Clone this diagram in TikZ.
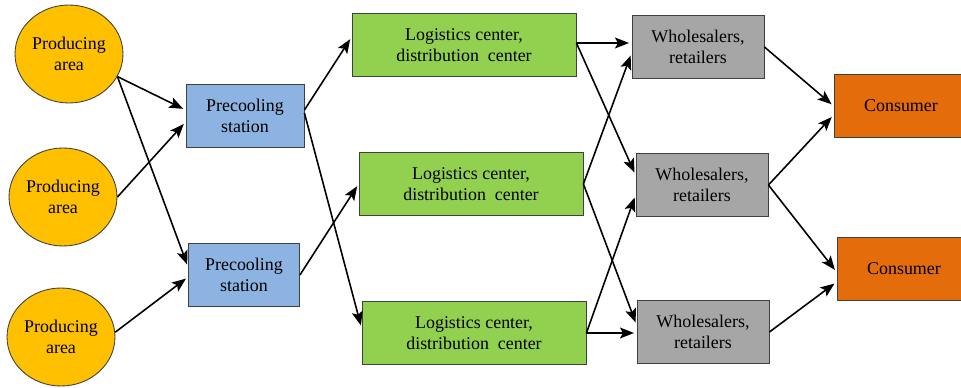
\documentclass[tikz,border=0pt]{standalone}
\usepackage{fontspec}
\setmainfont{Liberation Serif}
\usetikzlibrary{arrows.meta,shapes.geometric}
\definecolor{areacol}{RGB}{255,192,0}
\definecolor{coolcol}{RGB}{141,179,226}
\definecolor{logcol}{RGB}{146,208,80}
\definecolor{salecol}{RGB}{166,166,166}
\definecolor{usercol}{RGB}{228,108,10}
\begin{document}
\begin{tikzpicture}[x=0.02cm,y=-0.02cm,font=\fontsize{10.2}{11.9}\selectfont,text=black,
    area/.style={ellipse,draw=black!75,line width=0.5pt,fill=areacol,minimum width=2.16cm,minimum height=1.96cm,inner sep=0pt,align=center},
    box/.style={rectangle,draw=black!75,line width=0.5pt,minimum height=1.26cm,inner sep=0pt,align=center},
    arr/.style={-{Stealth[length=2.8mm,width=2.2mm,inset=0.6mm]},line width=0.9pt,shorten >=1.5pt}]
    \useasboundingbox(0,0)rectangle(961,388);
    \node[area](p1)at(69,54){Producing\\area};
    \node[area](p2)at(63,197){Producing\\area};
    \node[area](p3)at(61,337){Producing\\area};
    \node[box,fill=coolcol,minimum width=2.36cm](s1)at(245,116){Precooling\\station};
    \node[box,fill=coolcol,minimum width=2.22cm](s2)at(244,275){Precooling\\station};
    \node[box,fill=logcol,minimum width=4.48cm](l1)at(464,45){Logistics center,\\distribution~~center};
    \node[box,fill=logcol,minimum width=4.48cm](l2)at(471,184){Logistics center,\\distribution~~center};
    \node[box,fill=logcol,minimum width=4.48cm](l3)at(474,333){Logistics center,\\distribution~~center};
    \node[box,fill=salecol,minimum width=2.64cm](w1)at(698,47){Wholesalers,\\retailers};
    \node[box,fill=salecol,minimum width=2.64cm](w2)at(702,185){Wholesalers,\\retailers};
    \node[box,fill=salecol,minimum width=2.64cm](w3)at(703,332){Wholesalers,\\retailers};
    \node[box,fill=usercol,minimum width=2.68cm](c1)at(901,106){Consumer};
    \node[box,fill=usercol,minimum width=2.68cm](c2)at(904,269){Consumer};
    \draw[arr](p1.-25)--([yshift=0.12cm]s1.west);
    \draw[arr](p2.east)--([yshift=-0.12cm]s1.west);
    \draw[arr](p1.-25)--([yshift=0.16cm]s2.west);
    \draw[arr](p3.5)--([yshift=-0.04cm]s2.west);
    \draw[arr]([yshift=0.12cm]s1.east)--([yshift=0.16cm]l1.west);
    \draw[arr]([yshift=0.06cm]s1.east)--([yshift=0.1cm]l3.west);
    \draw[arr](s2.east)--(l2.west);
    \draw[arr]([yshift=0.04cm]l1.east)--([yshift=0.08cm]w1.west);
    \draw[arr]([yshift=0.04cm]l1.east)--([yshift=0.2cm]w2.west);
    \draw[arr](l2.east)--([yshift=-0.12cm]w1.west);
    \draw[arr](l2.east)--([yshift=0.14cm]w3.west);
    \draw[arr](l3.east)--([yshift=-0.2cm]w2.west);
    \draw[arr](l3.east)--([yshift=-0.02cm]w3.west);
    \draw[arr](w1.east)--(c1.west);
    \draw[arr](w2.east)--([yshift=-0.18cm]c1.west);
    \draw[arr](w2.east)--([yshift=-0.06cm]c2.west);
    \draw[arr](w3.east)--([yshift=-0.26cm]c2.west);
\end{tikzpicture}
\end{document}
